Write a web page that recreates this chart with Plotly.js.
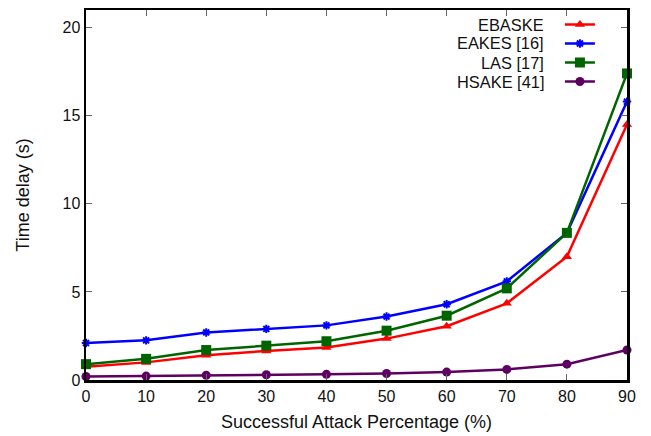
<!DOCTYPE html>
<html><head><meta charset="utf-8">
<script src="https://cdn.plot.ly/plotly-3.0.1.min.js"></script>
<style>body{margin:0;padding:0;background:#fff}#chart{width:651px;height:436px}</style>
</head><body><div id="chart"></div>
<script>
const attackPct = [0, 10, 20, 30, 40, 50, 60, 70, 80, 90];
const seriesNames = ["EBASKE", "EAKES [16]", "LAS [17]", "HSAKE [41]"];
const ebaske = [0.75, 1.0, 1.4, 1.65, 1.85, 2.35, 3.05, 4.35, 7.0, 14.5];
const eakes  = [2.1, 2.25, 2.7, 2.9, 3.1, 3.6, 4.3, 5.6, 8.35, 15.8];
const las    = [0.9, 1.2, 1.7, 1.95, 2.2, 2.8, 3.65, 5.2, 8.35, 17.4];
const hsake  = [0.2, 0.22, 0.27, 0.3, 0.32, 0.37, 0.45, 0.6, 0.9, 1.7];
const xTicks = [0, 10, 20, 30, 40, 50, 60, 70, 80, 90];
const yTicks = [0, 5, 10, 15, 20];

const styles = [
  {color: '#ff0000', symbol: 'triangle-up', size: 9},
  {color: '#0000ff', symbol: 'asterisk-open', size: 7},
  {color: '#006400', symbol: 'square', size: 10},
  {color: '#5e0061', symbol: 'circle', size: 9}
];
const data = [ebaske, eakes, las, hsake].map((ys, i) => ({
  x: attackPct, y: ys, type: 'scatter', mode: 'lines+markers',
  name: ' ', cliponaxis: false,
  line: {color: styles[i].color, width: 2.5},
  marker: {color: styles[i].color, symbol: styles[i].symbol, size: styles[i].size,
           line: {color: styles[i].color, width: styles[i].symbol === 'asterisk-open' ? 2 : 0}}
}));

const font = {family: '"Liberation Sans", Arial, sans-serif', color: '#111'};
const annotations = seriesNames.map((n, i) => ({
  xref: 'paper', yref: 'paper', x: 0.849, y: 1 - (14.5 + i * 19) / 370,
  xanchor: 'right', yanchor: 'middle', text: n, showarrow: false,
  borderpad: 0,
  font: Object.assign({}, font, {size: 16.4})
}));

const layout = {
  width: 651, height: 436,
  margin: {l: 86, r: 24, t: 10, b: 56},
  paper_bgcolor: '#fff', plot_bgcolor: '#fff',
  font: font,
  showlegend: true,
  legend: {x: 0.876, y: 1.0, xanchor: 'left', yanchor: 'top',
           bgcolor: 'rgba(0,0,0,0)', font: Object.assign({}, font, {size: 10}),
           tracegroupgap: 0, itemwidth: 30},
  annotations: annotations,
  xaxis: {
    range: [0, 90], tickvals: xTicks, ticktext: xTicks.map(String),
    ticks: 'inside', ticklen: 6, tickcolor: '#666', mirror: 'ticks',
    showline: true, linecolor: '#000', linewidth: 2.5, showgrid: false, zeroline: false,
    tickfont: Object.assign({}, font, {size: 16}),
    title: {text: 'Successful Attack Percentage (%)', font: Object.assign({}, font, {size: 18}), standoff: 12}
  },
  yaxis: {
    range: [0, 21], tickvals: yTicks, ticktext: yTicks.map(String),
    ticks: 'inside', ticklen: 6, tickcolor: '#666', mirror: 'ticks',
    showline: true, linecolor: '#000', linewidth: 2.5, showgrid: false, zeroline: false,
    tickfont: Object.assign({}, font, {size: 16}),
    title: {text: 'Time delay (s)', font: Object.assign({}, font, {size: 18}), standoff: 28}
  }
};
Plotly.newPlot('chart', data, layout, {displayModeBar: false, staticPlot: true});
</script></body></html>
